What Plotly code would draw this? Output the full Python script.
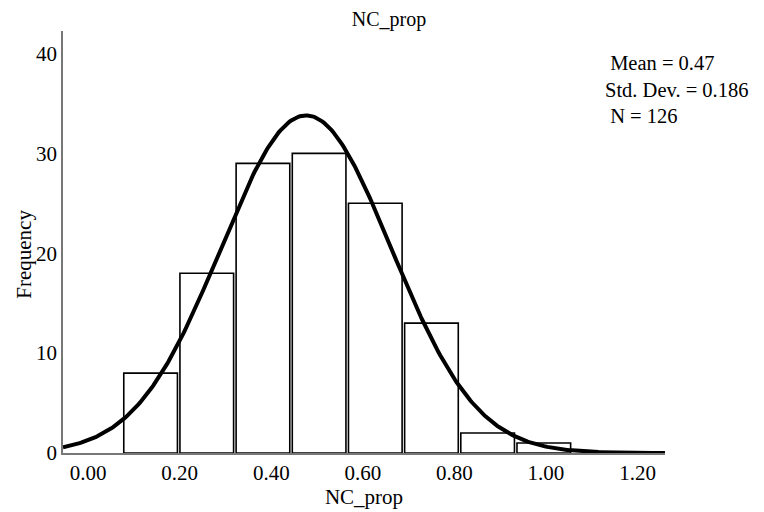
import numpy as np
import plotly.graph_objects as go

# Histogram data
bin_edges = [0.075, 0.1977, 0.3204, 0.4431, 0.5658, 0.6885, 0.8112, 0.9339, 1.0566]
counts = [8, 18, 29, 30, 25, 13, 2, 1]

# Summary statistics shown on the chart
mean_val = 0.47
sd_val = 0.186
n_val = 126

# Normal-curve parameters (peak position / height)
curve_center = 0.476
curve_peak = 33.8

x_ticks = [0.0, 0.2, 0.4, 0.6, 0.8, 1.0, 1.2]
x_tick_labels = ["0.00", "0.20", "0.40", "0.60", "0.80", "1.00", "1.20"]
y_ticks = [0, 10, 20, 30, 40]

edges = np.array(bin_edges)
centers = (edges[:-1] + edges[1:]) / 2
bw = float(np.mean(np.diff(edges)))

xr = [-0.055, 1.26]
xc = np.linspace(xr[0], xr[1], 400)
yc = curve_peak * np.exp(-0.5 * ((xc - curve_center) / sd_val) ** 2)

font = "Liberation Serif, Times New Roman, serif"

# page body has an 8px default margin; figure is sized to fit the window
W, H, OFF = 756, 504, 8
PL, PR, PT, PB = 63, 665, 31, 453.5  # plot area in window pixels

fig = go.Figure()
fig.add_trace(go.Bar(
    x=centers, y=counts, width=bw - 0.0055,
    marker=dict(color="white", line=dict(color="black", width=1.6)),
    showlegend=False, hoverinfo="x+y",
))
fig.add_trace(go.Scatter(
    x=xc, y=yc, mode="lines",
    line=dict(color="black", width=4),
    showlegend=False, hoverinfo="skip",
))

fig.update_layout(
    width=W, height=H,
    margin=dict(l=PL - OFF, r=W + OFF - PR, t=PT - OFF, b=H - (PB - OFF), autoexpand=False),
    paper_bgcolor="white", plot_bgcolor="white",
    font=dict(family=font, size=21, color="black"),
    title=dict(text="NC_prop", x=(389 - OFF) / W, xanchor="center",
               y=1 - (19 - OFF) / H, yanchor="middle", font=dict(size=20)),
    showlegend=False,
)
fig.layout.title.xref = "container"
fig.layout.title.yref = "container"

fig.update_xaxes(
    range=xr, tickvals=x_ticks, ticktext=x_tick_labels,
    showgrid=False, zeroline=False, ticks="", automargin=False,
    showline=True, linecolor="#777777", linewidth=1.5,
    title=dict(text="NC_prop", standoff=4, font=dict(size=21)),
    tickfont=dict(size=21),
)
fig.update_yaxes(
    range=[0, 42.25], tickvals=y_ticks,
    showgrid=False, zeroline=False, ticks="", automargin=False,
    showline=True, linecolor="#777777", linewidth=1.5,
    tickfont=dict(size=21),
)

# y-axis title placed explicitly (sits slightly below plot-area centre in reference)
fig.add_annotation(
    xref="paper", yref="paper",
    x=(24 - PL) / (PR - PL), y=(PB - 255) / (PB - PT),
    xanchor="center", yanchor="middle", textangle=-90, showarrow=False,
    text="Frequency", font=dict(family=font, size=21, color="black"),
)

fig.add_annotation(
    xref="paper", yref="paper",
    x=(603 - PL) / (PR - PL), y=1 - (50 - PT) / (PB - PT),
    xanchor="left", yanchor="top", align="left", showarrow=False,
    text=f" Mean = {mean_val:.2f}<br>Std. Dev. = {sd_val:.3f}<br> N = {n_val}",
    font=dict(family=font, size=20.5, color="black"),
)

fig.write_html("out.html")
